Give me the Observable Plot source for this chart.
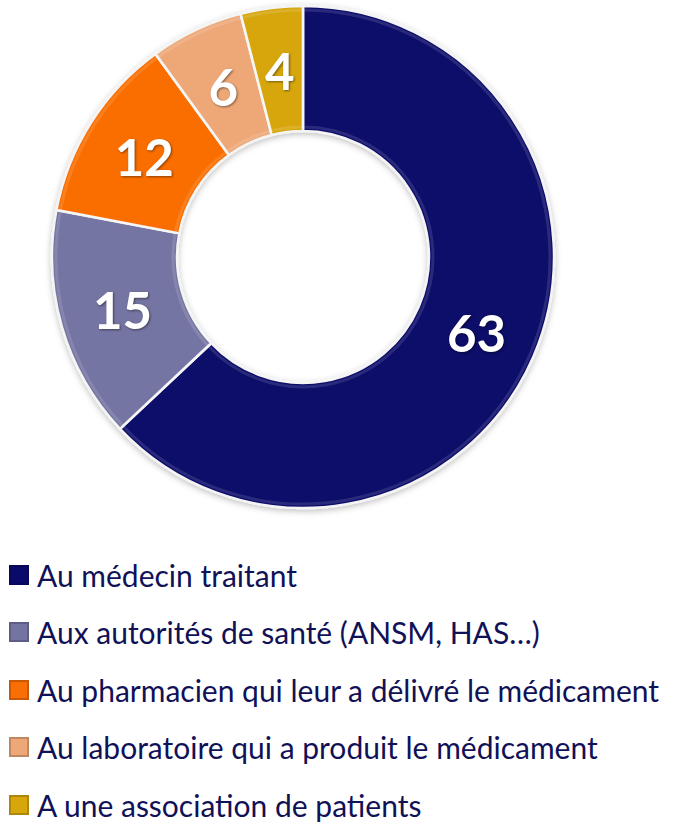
<!DOCTYPE html>
<html>
<head>
<meta charset="utf-8">
<script src="https://cdn.jsdelivr.net/npm/d3@7"></script>
<script src="https://cdn.jsdelivr.net/npm/@observablehq/plot@0.6"></script>
<style>
  body { margin: 0; background: #fff; font-family: Lato, "Open Sans", sans-serif; }
  #chart svg { display: block; }
  .lbl text { filter: drop-shadow(1px 1px 1px rgba(0,0,0,0.45)); }
  #legend { padding-top: 26px; }
  .row { height: 57.5px; display: flex; align-items: center; color: #111158; white-space: nowrap; }
  .sw { width: 20px; height: 20px; margin-left: 9px; margin-right: 8px; box-sizing: border-box; flex: none; }
</style>
</head>
<body>
<div id="chart"></div>
<div id="legend"></div>
<script>
const categories = [
  "Au médecin traitant",
  "Aux autorités de santé (ANSM, HAS…)",
  "Au pharmacien qui leur a délivré le médicament",
  "Au laboratoire qui a produit le médicament",
  "A une association de patients"
];
const values = [63, 15, 12, 6, 4];
const colors = ["#0a0a6a", "#7474a3", "#fa6e06", "#eea878", "#d7a60b"];

const data = categories.map((c, i) => ({category: c, value: values[i], color: colors[i]}));
const pie = d3.pie().value(d => d.value).sort(null)(data);

const W = 680, H = 520;
const cx = 303, cy = 257;       // layout: donut center in pixels
const outerR = 251, innerR = 126;
const labelR = (outerR + innerR) / 2;

// label positions derived from the pie angles
const labels = pie.map(p => {
  const a = (p.startAngle + p.endAngle) / 2;
  return {x: labelR * Math.sin(a), y: -labelR * Math.cos(a), text: String(p.data.value)};
});

const arcMark = (index, scales) => {
  const ox = scales.x(0), oy = scales.y(0);
  const k = scales.x(1) - scales.x(0);
  const arc = d3.arc().innerRadius(innerR * k).outerRadius(outerR * k);
  const g = d3.create("svg:g").attr("transform", `translate(${ox},${oy})`);
  const defs = g.append("defs");
  defs.append("filter").attr("id", "sh").attr("x", "-20%").attr("y", "-20%").attr("width", "140%").attr("height", "140%")
    .append("feDropShadow").attr("dx", 0).attr("dy", 2).attr("stdDeviation", 3).attr("flood-color", "#000").attr("flood-opacity", 0.25);
  const gg = g.append("g").attr("filter", "url(#sh)");
  gg.selectAll("path").data(pie).join("path")
    .attr("d", arc)
    .attr("fill", d => d.data.color)
    .attr("stroke", "#f4f4f4")
    .attr("stroke-width", 2.5)
    .attr("stroke-linejoin", "round");
  // subtle bevel highlight
  const arcIn = d3.arc().innerRadius(innerR * k + 4).outerRadius(outerR * k - 4);
  g.append("g").selectAll("path").data(pie).join("path")
    .attr("d", arcIn)
    .attr("fill", "none")
    .attr("stroke", "rgba(255,255,255,0.12)")
    .attr("stroke-width", 3);
  return g.node();
};

const chart = Plot.plot({
  width: W,
  height: H,
  margin: 0,
  x: {domain: [-cx, W - cx], range: [0, W], axis: null},
  y: {domain: [-cy, H - cy], range: [0, H], axis: null},
  marks: [
    arcMark,
    Plot.text(labels, {
      x: "x", y: "y", text: "text", dy: 3,
      fill: "white", fontSize: 51, fontWeight: "bold",
      fontFamily: "Lato, 'Open Sans', sans-serif",
      className: "lbl"
    })
  ]
});
document.getElementById("chart").appendChild(chart);

// Legend
const longest = categories[2];
const ctx = document.createElement("canvas").getContext("2d");
ctx.font = "100px Lato";
const fs = Math.min(30, 623 / ctx.measureText(longest).width * 100);
const legend = d3.select("#legend");
data.forEach(d => {
  const row = legend.append("div").attr("class", "row").style("font-size", fs + "px");
  row.append("div").attr("class", "sw")
    .style("background", d.color)
    .style("border", "2px solid " + d3.color(d.color).darker(0.6));
  row.append("span").text(d.category);
});
</script>
</body>
</html>
